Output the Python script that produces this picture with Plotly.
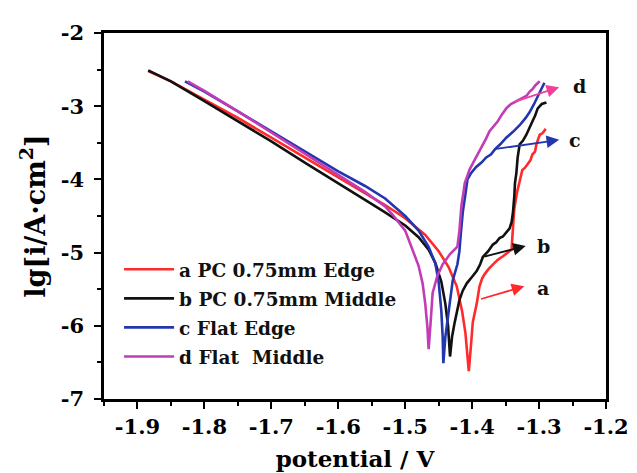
import plotly.graph_objects as go

# ---------------- data ----------------
a_x = [-1.884, -1.85, -1.80, -1.75, -1.70, -1.65, -1.60, -1.56, -1.53, -1.50, -1.47, -1.45, -1.435,
       -1.423, -1.415, -1.410, -1.407, -1.405,
       -1.402, -1.399, -1.393, -1.389, -1.385, -1.381, -1.375, -1.369, -1.362, -1.354, -1.347, -1.341,
       -1.340, -1.339, -1.337, -1.333, -1.329, -1.325, -1.321, -1.317, -1.313, -1.310, -1.306, -1.304,
       -1.301, -1.299, -1.295, -1.290]
a_y = [-2.52, -2.66, -2.91, -3.16, -3.43, -3.70, -3.98, -4.19, -4.35, -4.53, -4.76, -4.98, -5.20,
       -5.46, -5.80, -6.10, -6.40, -6.62,
       -6.30, -5.95, -5.69, -5.46, -5.35, -5.29, -5.22, -5.16, -5.10, -5.05, -5.00, -4.96,
       -4.80, -4.63, -4.40, -4.18, -4.00, -3.87, -3.84, -3.79, -3.74, -3.66, -3.62, -3.52,
       -3.45, -3.39, -3.37, -3.31]

b_x = [-1.884, -1.85, -1.80, -1.75, -1.70, -1.65, -1.60, -1.56, -1.53, -1.50, -1.48, -1.465, -1.455,
       -1.446, -1.440, -1.436, -1.433,
       -1.430, -1.426, -1.422, -1.419, -1.414, -1.408, -1.400, -1.393, -1.388, -1.384, -1.376, -1.369,
       -1.364, -1.359, -1.354, -1.348, -1.344, -1.341, -1.339, -1.337, -1.336, -1.334, -1.332, -1.329,
       -1.324, -1.319, -1.314, -1.310, -1.306, -1.302, -1.296, -1.289]
b_y = [-2.51, -2.66, -2.93, -3.20, -3.48, -3.77, -4.06, -4.28, -4.45, -4.63, -4.79, -4.96, -5.14,
       -5.40, -5.70, -6.00, -6.42,
       -6.15, -5.95, -5.78, -5.65, -5.52, -5.42, -5.33, -5.25, -5.16, -5.06, -4.98, -4.89,
       -4.86, -4.80, -4.78, -4.72, -4.67, -4.58, -4.45, -4.23, -4.05, -3.92, -3.70, -3.52,
       -3.47, -3.39, -3.30, -3.21, -3.13, -3.03, -2.97, -2.95]

c_x = [-1.829, -1.80, -1.75, -1.70, -1.65, -1.60, -1.56, -1.53, -1.50, -1.48, -1.465, -1.455, -1.450,
       -1.446, -1.444, -1.443,
       -1.440, -1.436, -1.429, -1.422, -1.419, -1.417, -1.414, -1.410, -1.407, -1.402, -1.394, -1.386,
       -1.379, -1.372, -1.366, -1.358, -1.349, -1.339, -1.329, -1.320, -1.314, -1.308, -1.302, -1.297,
       -1.292]
c_y = [-2.66, -2.80, -3.07, -3.34, -3.62, -3.89, -4.09, -4.26, -4.50, -4.70, -4.92, -5.15, -5.40,
       -5.80, -6.15, -6.51,
       -6.15, -5.86, -5.38, -5.16, -4.98, -4.75, -4.45, -4.20, -4.00, -3.92, -3.83, -3.77,
       -3.70, -3.66, -3.59, -3.52, -3.43, -3.35, -3.26, -3.16, -3.08, -2.98, -2.86, -2.78,
       -2.68]

d_x = [-1.825, -1.80, -1.75, -1.70, -1.65, -1.60, -1.56, -1.53, -1.519, -1.50, -1.489, -1.480,
       -1.474, -1.470, -1.467, -1.465,
       -1.462, -1.459, -1.452, -1.444, -1.433, -1.422, -1.419, -1.416, -1.413, -1.411, -1.407,
       -1.404, -1.399, -1.394, -1.389, -1.384, -1.379, -1.374, -1.368, -1.362, -1.356, -1.349,
       -1.342, -1.334, -1.326, -1.319, -1.314, -1.310, -1.305, -1.299]
d_y = [-2.66, -2.79, -3.07, -3.36, -3.65, -3.94, -4.17, -4.37, -4.48, -4.70, -4.95, -5.18,
       -5.42, -5.70, -6.00, -6.32,
       -5.95, -5.55, -5.32, -5.16, -5.02, -4.92, -4.70, -4.36, -4.18, -4.05, -3.95,
       -3.87, -3.78, -3.70, -3.60, -3.52, -3.44, -3.34, -3.28, -3.21, -3.12, -3.03,
       -2.97, -2.93, -2.89, -2.86, -2.80, -2.77, -2.71, -2.66]

series_names = ["a PC 0.75mm Edge", "b PC 0.75mm Middle", "c Flat Edge", "d Flat\u00a0 Middle"]
series_colors = ["#ff2a2a", "#111111", "#2236b0", "#c23cb6"]

# arrow callouts: label, tail (x, y), head (x, y)
label_text = ["a", "b", "c", "d"]
arrow_tail_x = [-1.389, -1.384, -1.369, -1.337]
arrow_tail_y = [-5.64, -5.06, -3.59, -2.94]
arrow_head_x = [-1.322, -1.320, -1.270, -1.270]
arrow_head_y = [-5.46, -4.91, -3.46, -2.74]
label_x = [-1.306, -1.306, -1.258, -1.253]
label_y = [-5.49, -4.91, -3.46, -2.73]
arrow_colors = ["#ff2a2a", "#111111", "#2236b0", "#f0409c"]

x_tickvals = [-1.9, -1.8, -1.7, -1.6, -1.5, -1.4, -1.3, -1.2]
x_ticktext = ["-1.9", "-1.8", "-1.7", "-1.6", "-1.5", "-1.4", "-1.3", "-1.2"]
y_tickvals = [-7, -6, -5, -4, -3, -2]
y_ticktext = ["-7", "-6", "-5", "-4", "-3", "-2"]

# ---------------- figure ----------------
FONT = "DejaVu Serif"
fig = go.Figure()
for i, (xs, ys) in enumerate([(a_x, a_y), (b_x, b_y), (c_x, c_y), (d_x, d_y)]):
    fig.add_trace(go.Scatter(
        x=xs, y=ys, mode="lines", name=series_names[i], legendgroup=str(i),
        line=dict(color=series_colors[i], width=2.6),
    ))

for i in range(len(label_text)):
    fig.add_annotation(
        x=arrow_head_x[i], y=arrow_head_y[i], ax=arrow_tail_x[i], ay=arrow_tail_y[i],
        xref="x", yref="y", axref="x", ayref="y", text="", showarrow=True,
        arrowhead=2, arrowsize=1.4, arrowwidth=1.8, arrowcolor=arrow_colors[i],
    )
    fig.add_annotation(
        x=label_x[i], y=label_y[i], xref="x", yref="y", text=label_text[i], showarrow=False,
        xanchor="left", font=dict(family=FONT, size=19, color="#111111", weight="bold"),
    )

axis_common = dict(
    showline=True, linecolor="black", linewidth=2.5, mirror=True,
    ticks="outside", ticklen=7, tickwidth=2, tickcolor="black",
    showgrid=False, zeroline=False,
    tickfont=dict(family=FONT, size=21, color="black", weight="bold"),
)

fig.update_xaxes(
    range=[-1.95, -1.2], tickmode="array", tickvals=x_tickvals, ticktext=x_ticktext,
    minor=dict(ticks="outside", dtick=0.05, tick0=-1.95, ticklen=4, tickwidth=2, tickcolor="black"),
    title=dict(text="potential / V", standoff=13,
               font=dict(family=FONT, size=23, color="black", weight="bold")),
    **axis_common,
)
fig.update_yaxes(
    range=[-7, -2], tickmode="array", tickvals=y_tickvals, ticktext=y_ticktext,
    minor=dict(ticks="outside", dtick=0.5, tick0=-7, ticklen=4, tickwidth=2, tickcolor="black"),
    ticklabelstandoff=6,
    title=dict(text="lg[i/A·cm<sup>2</sup>]", standoff=8,
               font=dict(family=FONT, size=27, color="black", weight="bold")),
    **axis_common,
)

# the page body adds an 8px offset, so margins are shifted to keep the plot area in place
fig.update_layout(
    width=637, height=473,
    margin=dict(l=96, r=39, t=14, b=82),
    paper_bgcolor="white", plot_bgcolor="white",
    showlegend=True,
    legend=dict(
        x=0.03, y=0.405, xanchor="left", yanchor="top",
        bgcolor="rgba(0,0,0,0)", borderwidth=0,
        font=dict(family=FONT, size=18.5, color="#111111", weight="bold"),
        itemwidth=50, tracegroupgap=2,
    ),
)

fig.write_html("out.html")
